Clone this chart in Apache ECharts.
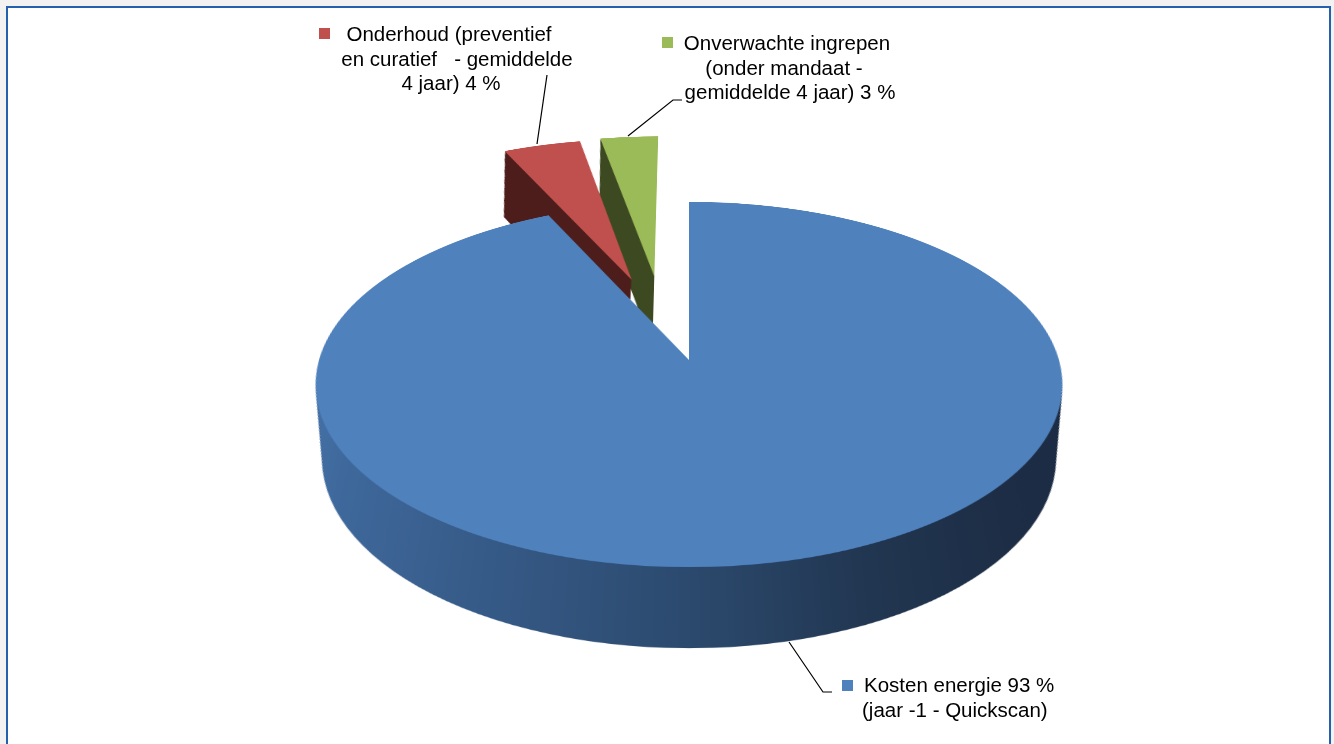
<!DOCTYPE html>
<html>
<head>
<meta charset="utf-8">
<title>Kostenverdeling</title>
<script src="https://cdn.jsdelivr.net/npm/echarts@6/dist/echarts.min.js"></script>
<style>
  html, body { margin: 0; padding: 0; width: 1334px; height: 744px; overflow: hidden; background: #f2f2f2; }
  #frame { position: absolute; left: 6px; top: 6px; width: 1321px; height: 800px; border: 2px solid #2460ab; background: #fff; }
  /* the pie is drawn flat and tilted back in perspective to get the 3D look */
  #pie { position: absolute; left: 0; top: -260px; width: 1334px; height: 1200px;
         transform-origin: 689px 620px; transform: perspective(2412px) rotateX(61deg); }
  #labels { position: absolute; left: 0; top: 0; width: 1334px; height: 744px; }
</style>
</head>
<body>
<div id="frame"></div>
<div id="pie"></div>
<div id="labels"></div>
<script>
// ---- data ----
const categories = [
  'Kosten energie (jaar -1 - Quickscan)',
  'Onderhoud (preventief en curatief - gemiddelde 4 jaar)',
  'Onverwachte ingrepen (onder mandaat - gemiddelde 4 jaar)'
];
const shares = [93, 4, 3];
const labelTemplates = [
  'Kosten energie {v} %\n(jaar -1 - Quickscan)',
  'Onderhoud (preventief\nen curatief   - gemiddelde\n4 jaar) {v} %',
  'Onverwachte ingrepen\n(onder mandaat -\ngemiddelde 4 jaar) {v} %'
];

// ---- style ----
const topColors = ['#4f81bd', '#c0504d', '#9bbb59'];
const pullOut = [[0, 0], [-61, -176], [-37, -184]];   // exploded-slice offsets in the pie plane (px)
const R = 370;                          // pie radius in the plane
const CX = 689, CY = 620;               // pie centre inside #pie (also the transform origin)
const TILT = 61 * Math.PI / 180;
const PERSP = 2412;
const DEPTH = 86;                       // thickness of the pie
const LAYERS = 72;

const cosT = Math.cos(TILT), sinT = Math.sin(TILT);
const blueSide = {
  type: 'linear', global: true, x: CX - R, y: 0, x2: CX + R, y2: 0,
  colorStops: [
    { offset: 0, color: '#4672a8' },
    { offset: 0.07, color: '#3f699c' },
    { offset: 0.27, color: '#365a87' },
    { offset: 0.5, color: '#2c4a6e' },
    { offset: 0.7, color: '#223752' },
    { offset: 0.89, color: '#1d2d45' },
    { offset: 1, color: '#1c2c44' }
  ]
};
const sideColors = [blueSide, '#4e1e1c', '#3e4a22'];

function sliceSeries(j, g, d, color) {
  return {
    type: 'pie',
    silent: true,
    animation: false,
    center: [CX + pullOut[j][0], CY + d + g * pullOut[j][1]],
    radius: [0, g * R],
    startAngle: 90,
    clockwise: true,
    avoidLabelOverlap: false,
    label: { show: false },
    labelLine: { show: false },
    emphasis: { disabled: true },
    itemStyle: { borderWidth: 0 },
    data: shares.map((v, k) => ({
      name: categories[k],
      value: v,
      itemStyle: { color: k === j ? color : 'rgba(0,0,0,0)' }
    }))
  };
}

// stack of layers from the bottom face up to the top face; each layer sits
// on the view ray of the matching depth so the cylinder keeps its perspective
const series = [];
for (let i = LAYERS; i >= 0; i--) {
  const h = DEPTH * i / LAYERS;
  const g = PERSP / (PERSP + h / cosT);
  const d = g * h * sinT / cosT;
  for (let j = 0; j < shares.length; j++) {
    series.push(sliceSeries(j, g, d, i === 0 ? topColors[j] : sideColors[j]));
  }
}

const pieChart = echarts.init(document.getElementById('pie'), null, { renderer: 'canvas', devicePixelRatio: 2 });
pieChart.setOption({ backgroundColor: 'transparent', animation: false, series: series });

// ---- labels with legend keys and leader lines ----
const FONT = '20.5px "Liberation Sans", Arial, Helvetica, sans-serif';
const LINE_H = 24.7;
const labelText = j => labelTemplates[j].replace('{v}', shares[j]);
// anchor x of every text line, top of the first line, alignment, key square, leader line
const labelPlaces = [
  { xs: [864, 862], top: 674, align: 'left', key: [842, 680], line: [[832, 692], [823, 692], [789, 642]] },
  { xs: [449, 457, 451], top: 23, align: 'center', key: [319, 28], line: [[547, 75], [537, 144]] },
  { xs: [787, 784, 790], top: 32, align: 'center', key: [662, 37], line: [[682, 100], [673, 100], [628, 136]] }
];
const graphics = [];
labelPlaces.forEach((p, j) => {
  graphics.push({ type: 'rect', silent: true, shape: { x: p.key[0], y: p.key[1], width: 11, height: 11 },
                  style: { fill: topColors[j] } });
  labelText(j).split('\n').forEach((txt, n) => {
    graphics.push({ type: 'text', silent: true, x: p.xs[n], y: p.top + n * LINE_H,
                    style: { text: txt, font: FONT, fill: '#000', align: p.align,
                             verticalAlign: 'top', lineHeight: LINE_H } });
  });
  graphics.push({ type: 'polyline', silent: true, shape: { points: p.line },
                  style: { stroke: '#000', lineWidth: 1.2, fill: null } });
});

const labelChart = echarts.init(document.getElementById('labels'), null, { renderer: 'canvas' });
labelChart.setOption({ backgroundColor: 'transparent', animation: false, graphic: graphics });
</script>
</body>
</html>
